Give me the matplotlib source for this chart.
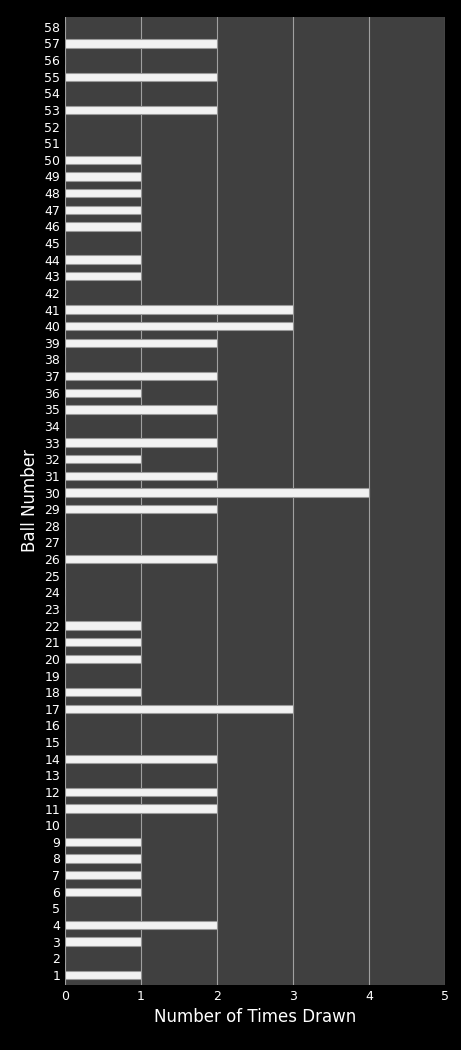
import matplotlib
matplotlib.use("Agg")
import matplotlib.pyplot as plt
import numpy as np

balls = list(range(1, 59))
counts = [1,0,1,2,0,1,1,1,1,0,2,2,0,2,0,0,3,1,0,1,1,1,0,0,0,2,0,0,2,4,
          2,1,2,0,2,1,2,0,2,3,3,0,1,1,0,1,1,1,1,1,0,0,2,0,2,0,2,0]

fig = plt.figure(figsize=(4.61, 10.5), dpi=100, facecolor="black")
ax = fig.add_axes([0.141, 0.062, 0.824, 0.922])
ax.set_facecolor("#404040")
ax.barh(balls, counts, height=0.5, color="#f2f2f2", edgecolor="#9a9a9a", linewidth=0.8, zorder=3)
ax.set_xlim(0, 5)
ax.set_ylim(0.4, 58.6)
ax.set_yticks(balls)
ax.set_yticklabels([str(b) for b in balls])
ax.set_xticks(range(6))
ax.grid(axis="x", color="#a0a0a0", linewidth=0.8, zorder=0)
for s in ax.spines.values():
    s.set_visible(False)
ax.tick_params(colors="white", labelsize=9, length=0)
ax.set_xlabel("Number of Times Drawn", color="white", fontsize=12)
ax.set_ylabel("Ball Number", color="white", fontsize=12)
fig.savefig("out.png", facecolor="black")
